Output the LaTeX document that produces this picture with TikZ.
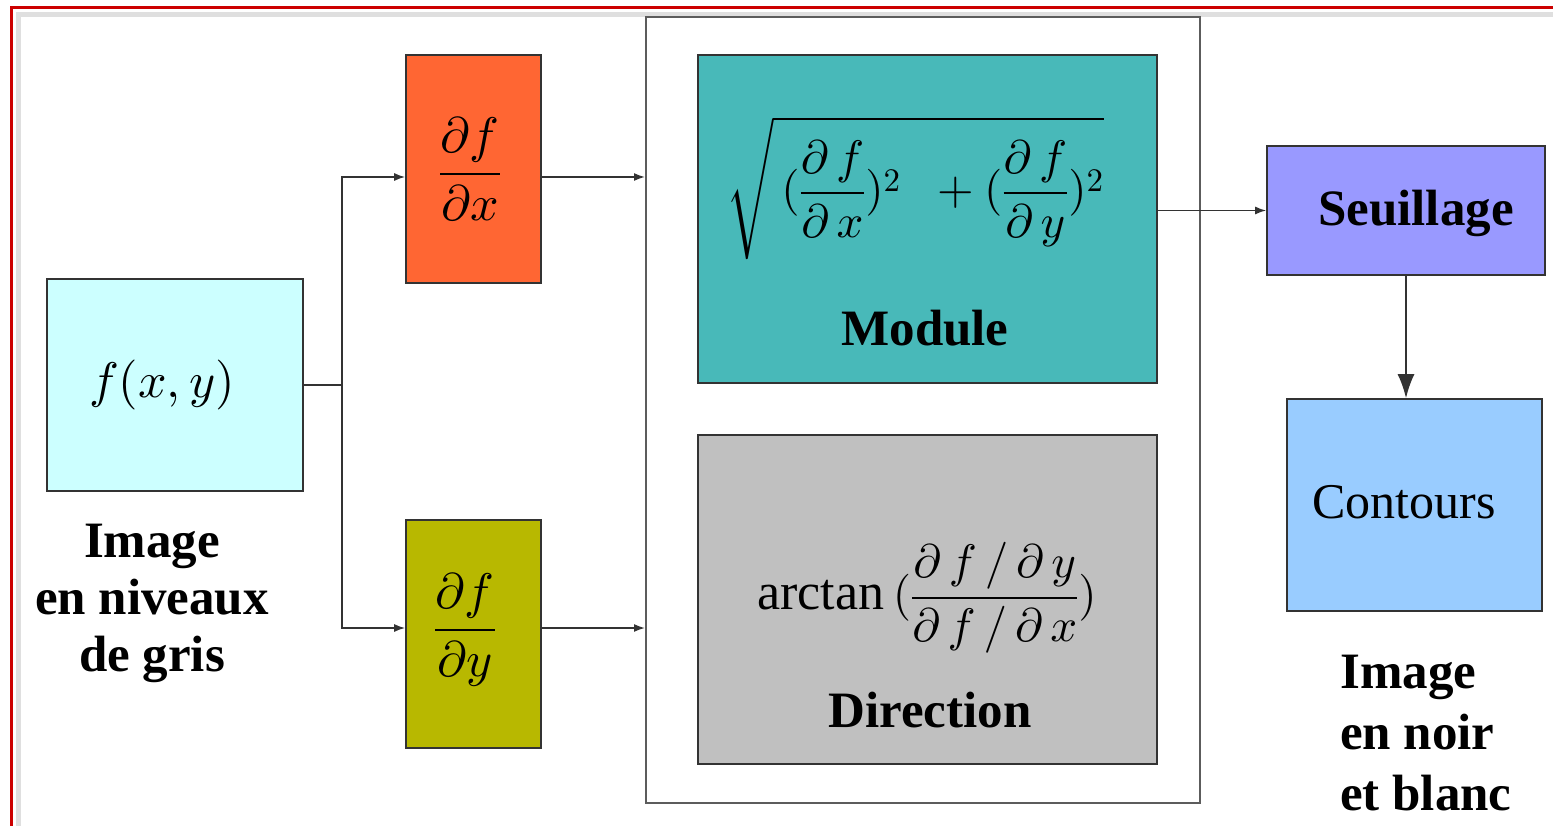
\documentclass[tikz,border=0pt]{standalone}
\usepackage{fontspec}
\setmainfont{Liberation Serif}
\DeclareFontShape{OML}{cmm}{m}{it}{<->cmmi10}{}
\DeclareFontShape{OMS}{cmsy}{m}{n}{<->cmsy10}{}
\DeclareFontShape{OMX}{cmex}{m}{n}{<->cmex10}{}
\DeclareFontShape{OT1}{cmr}{m}{n}{<->cmr10}{}
\usetikzlibrary{arrows.meta}
\definecolor{fcyan}{HTML}{CCFFFF}
\definecolor{dxorange}{HTML}{FF6633}
\definecolor{dyolive}{HTML}{B8B800}
\definecolor{modteal}{HTML}{48B9B9}
\definecolor{dirgray}{HTML}{C0C0C0}
\definecolor{seuviolet}{HTML}{9999FF}
\definecolor{conblue}{HTML}{99CCFF}
\definecolor{framered}{HTML}{CC0000}
\definecolor{linegray}{HTML}{333333}
\tikzset{
  box/.style={draw=linegray, line width=1.6pt, inner sep=0pt},
  arr/.style={draw=linegray, line width=1.6pt, -{Latex[length=11pt,width=8pt]}},
  bigarr/.style={draw=linegray, line width=1.8pt, -{Latex[length=24pt,width=17pt]}},
  lbl/.style={font=\fontsize{51}{58}\selectfont\bfseries, inner sep=0pt},
  mth/.style={font=\fontsize{50}{58}\selectfont, inner sep=0pt}
}
\begin{document}
\begin{tikzpicture}[x=1pt,y=-1pt]
\useasboundingbox (0,0) rectangle (1553,826);
% outer frame
\fill[white] (0,0) rectangle (1553,826);
\draw[gray!25, line width=5pt] (18,826) -- (18,15) -- (1553,15);
\draw[framered, line width=3pt] (11,826) -- (11,7.5) -- (1553,7.5);

% boxes
\node[box, fill=fcyan, minimum width=256pt, minimum height=212pt] (f) at (175,385) {};
\node[mth, font=\fontsize{50}{60}\selectfont] (ftxt) at (162,385) {$f\Bigl(x,y\Bigr)$};
\node[box, fill=dxorange, minimum width=135pt, minimum height=228pt] (dfx) at (473.5,169) {};
\node[mth] (dfxtxt) at (470,169) {$\displaystyle\frac{\partial f}{\partial x}$};
\node[box, fill=dyolive, minimum width=135pt, minimum height=228pt] (dfy) at (473.5,634) {};
\node[mth] (dfytxt) at (465,630) {$\displaystyle\frac{\partial f}{\partial y}$};

\node[draw=linegray!80, line width=2pt, minimum width=554pt, minimum height=786pt] (frame) at (923,410) {};
\node[box, fill=modteal, minimum width=459pt, minimum height=328pt] (mod) at (927.5,219) {};
\node[mth, font=\fontsize{47}{54}\selectfont] (modf) at (915,188)
  {$\displaystyle\sqrt{\,(\frac{\partial\, f}{\partial\, x})^{2}\;\;+(\frac{\partial\, f}{\partial\, y})^{2}}$};
\node[lbl] (modl) at (925,328) {Module};
\node[box, fill=dirgray, minimum width=459pt, minimum height=329pt] (dir) at (927.5,599.5) {};
\node[mth, font=\fontsize{52}{60}\selectfont] (dirf) at (927,598)
  {arctan\,{\fontsize{47}{54}\selectfont$\displaystyle(\frac{\partial\, f\,/\,\partial\, y}{\partial\, f\,/\,\partial\, x})$}};
\node[lbl] (dirl) at (930,710) {Direction};

\node[box, fill=seuviolet, minimum width=278pt, minimum height=129pt] (seu) at (1406,210.5) {};
\node[lbl] (seul) at (1416,213) {Seuillage};
\node[box, fill=conblue, minimum width=255pt, minimum height=212pt] (con) at (1414.5,505) {};
\node[mth] (conl) at (1404,502) {Contours};

% side captions
\node[lbl, align=center, font=\fontsize{51}{57}\selectfont\bfseries] (cap1) at (152,603) {Image\\en niveaux\\de gris};
\node[lbl, align=left, anchor=west, font=\fontsize{51}{61}\selectfont\bfseries] (cap2) at (1340,733) {Image\\en noir\\et blanc};

% connectors
\draw[linegray, line width=1.6pt] (f.east) -- ++(38,0) coordinate (j);
\draw[arr] (j) |- ([yshift=-8pt]dfx.west);
\draw[arr] (j) |- ([yshift=6pt]dfy.west);
\draw[arr] ([yshift=-8pt]dfx.east) -- ([yshift=-8pt]dfx.east -| frame.west);
\draw[arr] ([yshift=6pt]dfy.east) -- ([yshift=6pt]dfy.east -| frame.west);
\draw[arr] (mod.east |- seu.west) -- (seu.west);
\draw[bigarr] (seu.south) -- (seu.south |- con.north);
\end{tikzpicture}
\end{document}
